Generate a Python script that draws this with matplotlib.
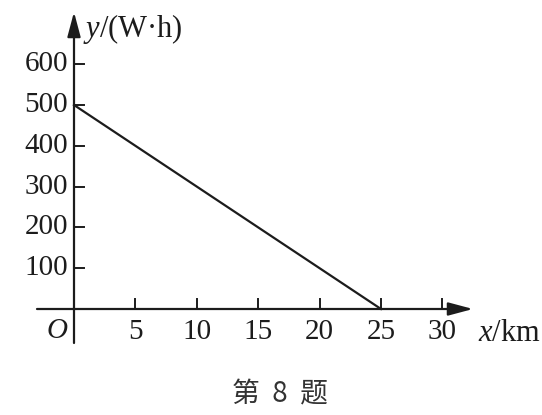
import matplotlib
matplotlib.use("Agg")
import matplotlib.pyplot as plt

plt.rcParams["mathtext.fontset"] = "custom"
plt.rcParams["mathtext.rm"] = "Liberation Serif"
plt.rcParams["mathtext.it"] = "Liberation Serif:italic"

# data
x_ticks = [5, 10, 15, 20, 25, 30]
y_ticks = [100, 200, 300, 400, 500, 600]
line_x = [0, 25]
line_y = [500, 0]

ink = "#1c1c1c"
serif = ["Liberation Serif", "DejaVu Serif"]

fig = plt.figure(figsize=(5.42, 4.15), dpi=100)
ax = fig.add_axes([0, 0, 1, 1])
# pixel scale: x=0 at px 74, 1 unit ~ 12.28 px; y=0 at px 309 from top, 1 unit ~ 0.408 px
x0, y0 = 74, 309
sx = 12.28
sy = 0.408
ax.set_xlim(-x0 / sx, (542 - x0) / sx)
ax.set_ylim(-(415 - y0) / sy, y0 / sy)
ax.axis("off")

arrow = dict(arrowstyle="-|>,head_length=0.75,head_width=0.2", color=ink,
             lw=1.6, mutation_scale=20, shrinkA=0, shrinkB=0)
# x axis and y axis
ax.annotate("", xy=((473 - x0) / sx, 0), xytext=((37 - x0) / sx, 0), arrowprops=arrow)
ax.annotate("", xy=(0, (y0 - 12) / sy), xytext=(0, -(343 - y0) / sy), arrowprops=arrow)

# ticks
for t in x_ticks:
    ax.plot([t, t], [0, 10 / sy], color=ink, lw=1.4)
    ax.text(t, -23 / sy, str(t), ha="center", va="center",
            fontsize=21, family=serif, color=ink)
for t in y_ticks:
    ax.plot([0, 10 / sx], [t, t], color=ink, lw=1.4)
    ax.text(-6 / sx, t, str(t), ha="right", va="center",
            fontsize=21, family=serif, color=ink)

ax.text(-17 / sx, -22 / sy, "O", ha="center", va="center",
        fontsize=21, family=serif, style="italic", color=ink)

# data line
ax.plot(line_x, line_y, color=ink, lw=1.6)

# axis labels
ax.text(9 / sx, (y0 - 29) / sy, "$y$/(W·h)", ha="left", va="center",
        fontsize=22, family=serif, color=ink)
ax.text((478 - x0) / sx, -24 / sy, "$x$/km", ha="left", va="center",
        fontsize=22, family=serif, color=ink)

# caption
ax.text((280 - x0) / sx, -(394 - y0) / sy, "第  8  题", ha="center", va="center",
        fontsize=20, family=["Noto Sans CJK SC", "DejaVu Sans"], color="#333333")

fig.savefig("out.png", dpi=100)
